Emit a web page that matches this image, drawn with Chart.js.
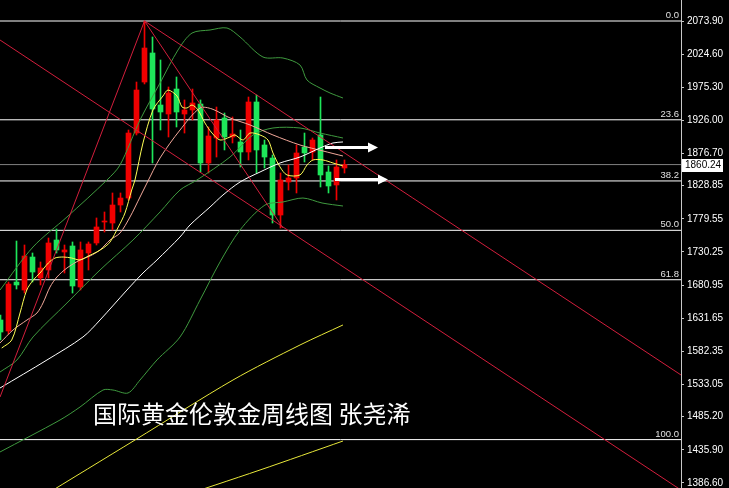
<!DOCTYPE html>
<html>
<head>
<meta charset="utf-8">
<script src="https://cdn.jsdelivr.net/npm/chart.js@4.4.1/dist/chart.umd.min.js"></script>
<style>
html, body { margin: 0; padding: 0; background: #000; }
#wrap { position: relative; width: 729px; height: 488px; overflow: hidden; }
#title {
    position: absolute; left: 93px; top: 400px;
    color: #fff; font-size: 24px; line-height: 25px;
    font-family: "Noto Sans CJK SC", sans-serif; white-space: nowrap;
}
</style>
</head>
<body>
<div id="wrap">
    <canvas id="goldChart" width="729" height="488"></canvas>
    <div id="title">国际黄金伦敦金周线图 张尧浠</div>
</div>
<script>
// weekly candles
const opens  = [1629.0, 1612.6, 1685.5, 1673.6, 1722.7, 1691.5, 1703.4, 1748.0, 1730.2, 1739.1,
                1678.1, 1728.7, 1743.6, 1774.8, 1773.3, 1800.1, 1810.5, 1907.2, 1983.1, 2026.3,
                1948.9, 1935.5, 1972.7, 1935.5, 1941.5, 1950.4, 1862.6, 1899.8, 1929.6, 1901.3,
                1893.9, 1879.0, 1953.4, 1889.4, 1870.0, 1785.2, 1834.3, 1840.3, 1886.4, 1879.0,
                1904.3, 1849.2, 1829.9, 1855.2];
const highs  = [1636.4, 1685.5, 1746.5, 1740.6, 1728.7, 1715.3, 1751.0, 1764.4, 1740.6, 1745.1,
                1745.1, 1745.1, 1780.8, 1789.7, 1818.0, 1818.0, 1911.7, 1983.1, 2073.9, 2050.1,
                2015.9, 1975.7, 1990.6, 1956.4, 1972.7, 1956.4, 1916.2, 1945.9, 1937.0, 1931.1,
                1911.7, 1960.8, 1963.8, 1896.8, 1874.5, 1847.7, 1859.6, 1889.4, 1907.2, 1899.8,
                1960.8, 1858.2, 1867.1, 1867.1];
const lows   = [1599.2, 1608.2, 1675.1, 1669.1, 1685.5, 1681.1, 1691.5, 1728.7, 1698.9, 1669.1,
                1673.6, 1703.4, 1740.6, 1759.9, 1762.9, 1789.7, 1807.6, 1904.3, 1980.2, 1862.6,
                1911.7, 1901.3, 1916.2, 1907.2, 1926.6, 1849.2, 1847.7, 1871.5, 1882.0, 1892.4,
                1856.7, 1867.1, 1847.7, 1855.2, 1773.3, 1765.9, 1822.4, 1818.0, 1864.1, 1867.1,
                1826.9, 1818.0, 1807.6, 1847.7];
const closes = [1611.1, 1682.5, 1681.1, 1724.2, 1700.4, 1706.4, 1743.6, 1733.2, 1733.2, 1679.6,
                1733.2, 1742.1, 1767.4, 1776.3, 1800.1, 1810.5, 1907.2, 1971.2, 2033.7, 1943.0,
                1938.5, 1966.8, 1938.5, 1941.5, 1951.9, 1862.6, 1902.8, 1926.6, 1901.3, 1905.8,
                1879.0, 1953.4, 1882.0, 1871.5, 1785.2, 1837.3, 1840.3, 1877.5, 1877.5, 1896.8,
                1844.8, 1828.4, 1856.7, 1860.24];

const yTicks = [2073.90, 2024.60, 1975.30, 1926.00, 1876.70, 1828.85, 1779.55, 1730.25,
                1680.95, 1631.65, 1582.35, 1533.05, 1485.20, 1435.90, 1386.60];
const fibLevels = [2073.9, 1926.9, 1835.9, 1762.4, 1688.9, 1451.0];
const fibNames  = ["0.0", "23.6", "38.2", "50.0", "61.8", "100.0"];
const lastPrice = 1860.24;

// indicator lines as [week index, price]
const ma5 = [[0.15,1587.3],[1.4,1599.2],[2.44,1639.4],[3.28,1673.6],[4.1,1688.5],[4.94,1698.9],
    [5.98,1713.8],[6.81,1721.2],[7.85,1722.7],[8.9,1721.2],[9.94,1718.3],[10.98,1724.2],
    [12.03,1730.2],[12.85,1736.1],[13.69,1745.0],[14.73,1767.4],[15.56,1788.2],[16.4,1822.4],
    [16.81,1837.3],[17.81,1892.4],[19.06,1941.5],[20.31,1962.3],[20.94,1971.2],[22.06,1962.3],
    [22.69,1946.0],[23.31,1944.5],[23.94,1948.9],[24.69,1941.5],[25.56,1922.1],[26.44,1907.2],
    [27.44,1896.8],[28.69,1901.3],[29.31,1904.3],[30.31,1896.8],[31.19,1907.2],[32.44,1904.3],
    [33.44,1896.8],[34.06,1877.5],[34.94,1856.7],[35.81,1844.8],[37.44,1844.8],[38.31,1859.6],
    [39.06,1867.1],[40.31,1867.1],[41.56,1862.6],[42.81,1858.2]];
const ma10 = [[-0.06,1594.8],[1.56,1614.1],[3.31,1629.0],[4.56,1639.4],[5.31,1654.3],[6.19,1678.1],
    [7.06,1693.0],[8.31,1706.4],[9.94,1718.3],[11.19,1724.2],[12.44,1733.2],[13.69,1748.0],
    [14.94,1758.4],[16.19,1782.3],[17.44,1812.0],[18.31,1832.8],[19.94,1870.1],[22.44,1911.7],
    [24.94,1944.4],[26.44,1943.0],[28.69,1929.6],[31.19,1919.2],[34.06,1904.3],[37.44,1889.4],
    [40.31,1880.5],[42.81,1873.0]];
const bandMid = [[-0.06,1551.6],[2.06,1569.5],[4.06,1603.7],[8.31,1654.3],[12.44,1703.4],
    [16.56,1748.0],[19.94,1789.7],[22.44,1822.4],[24.56,1837.3],[28.69,1871.5],[31.56,1904.3],
    [34.06,1914.7],[37.44,1914.7],[39.94,1907.2],[42.81,1899.8]];
const bandUp = [[-0.06,1673.6],[4.06,1737.6],[8.31,1782.3],[13.31,1837.3],[14.94,1859.6],
    [17.44,1926.6],[19.94,1981.6],[22.19,2030.8],[23.94,2056.0],[26.19,2060.5],[28.31,2063.5],
    [29.94,2050.1],[32.81,2020.3],[35.31,2018.8],[37.44,2008.4],[38.31,1986.1],[39.94,1974.2],
    [41.19,1966.8],[42.81,1959.3]];
const bandLow = [[-0.06,1432.6],[7.44,1480.2],[9.94,1499.5],[12.81,1524.8],[14.06,1524.8],
    [15.94,1520.4],[17.44,1539.7],[19.56,1569.5],[22.44,1603.7],[24.94,1658.7],[27.44,1715.3],
    [29.94,1762.9],[33.06,1800.1],[35.31,1804.6],[37.81,1810.5],[40.19,1803.1],[42.81,1798.6]];
const maWhite = [[-0.06,1527.8],[5.81,1569.5],[10.31,1603.7],[12.44,1629.0],[15.81,1673.6],
    [17.81,1698.9],[19.56,1718.3],[22.44,1752.5],[23.69,1770.4],[26.19,1797.1],[27.81,1815.0],
    [29.94,1834.3],[32.44,1849.2],[34.94,1862.6],[37.44,1871.5],[39.94,1884.9],[41.56,1892.4],
    [42.81,1893.9]];
const maLongA = [[4.94,1364.1],[16.81,1450.4],[29.06,1539.7],[37.44,1591.8],[42.81,1621.6]];
const maLongB = [[21.2,1361.1],[32.44,1405.8],[42.81,1448.9]];

// drawn objects
const channelLow  = [[-0.06,2045.6],[85.06,1376.0]];
const channelHigh = [[18.0,2073.9],[85.06,1547.2]];
const legLeft     = [[18.0,2073.9],[-0.06,1514.4]];
const legDown     = [[18.0,2073.9],[35.31,1765.9]];
const arrowTop    = [[40.56,1885.7],[47.19,1885.7]];
const arrowBottom = [[41.81,1838.0],[48.44,1838.0]];

const RED = "#f00000";
const GREEN = "#1ee65a";
const candleColors = opens.map((o, i) => closes[i] >= o ? RED : GREEN);

const toPts = arr => arr.map(([x, y]) => ({ x, y }));

function line(pts, color, order, tension = 0.3, width = 1) {
    return {
        type: "line", data: toPts(pts), borderColor: color, borderWidth: width,
        pointRadius: 0, tension, fill: false, order, clip: 0
    };
}

const datasets = [];
fibLevels.forEach(v => datasets.push(line([[-1, v], [90, v]], "#ffffff", 20, 0)));
datasets.push(line([[-1, lastPrice], [90, lastPrice]], "#808080", 19, 0));

datasets.push({
    type: "bar", data: lows.map((l, i) => ({ x: i, y: [l, highs[i]] })),
    backgroundColor: candleColors, barThickness: 1, grouped: false, order: 11
});
datasets.push({
    type: "bar", data: opens.map((o, i) => ({ x: i, y: [o, closes[i]] })),
    backgroundColor: candleColors, barThickness: 5, minBarLength: 1, grouped: false, order: 10
});

datasets.push(line(maLongA, "#e8e83a", 5));
datasets.push(line(maLongB, "#e8e83a", 5));
datasets.push(line(bandUp, "#3f9a3f", 4));
datasets.push(line(bandMid, "#3f9a3f", 4));
datasets.push(line(bandLow, "#3f9a3f", 4));
datasets.push(line(maWhite, "#ffffff", 3));
datasets.push(line(ma10, "#f2a89a", 3));
datasets.push(line(ma5, "#ffff55", 2));

[channelLow, channelHigh, legLeft, legDown].forEach(p => datasets.push(line(p, "#d21e3c", 1, 0)));

const overlay = {
    id: "overlay",
    beforeDraw(chart) {
        const c = chart.ctx;
        c.save();
        c.fillStyle = "#000";
        c.fillRect(0, 0, chart.width, chart.height);
        c.restore();
    },
    afterDatasetsDraw(chart) {
        const c = chart.ctx;
        const xs = chart.scales.x, ys = chart.scales.y;
        const right = chart.chartArea.right;
        c.save();
        c.font = "9.5px 'Liberation Sans'";
        c.fillStyle = "#e0e0e0";
        c.textAlign = "right";
        c.textBaseline = "alphabetic";
        fibLevels.forEach((v, i) => {
            c.fillText(fibNames[i], right - 2, Math.round(ys.getPixelForValue(v)) - 3);
        });

        [arrowTop, arrowBottom].forEach(a => {
            const x0 = xs.getPixelForValue(a[0][0]);
            const x1 = xs.getPixelForValue(a[1][0]);
            const y = ys.getPixelForValue(a[0][1]);
            c.strokeStyle = "#fff";
            c.fillStyle = "#fff";
            c.lineWidth = 3;
            c.beginPath();
            c.moveTo(x0, y);
            c.lineTo(x1 - 8, y);
            c.stroke();
            c.beginPath();
            c.moveTo(x1, y);
            c.lineTo(x1 - 10, y - 5);
            c.lineTo(x1 - 10, y + 5);
            c.closePath();
            c.fill();
        });
        c.restore();
    },
    afterDraw(chart) {
        const c = chart.ctx;
        const y = chart.scales.y.getPixelForValue(lastPrice);
        const x = chart.chartArea.right + 1;
        c.save();
        c.fillStyle = "#fff";
        c.fillRect(x, Math.round(y) - 6, 41, 13);
        c.fillStyle = "#000";
        c.font = "10px 'Liberation Sans'";
        c.textBaseline = "middle";
        c.textAlign = "left";
        c.fillText(lastPrice.toFixed(2), x + 3, Math.round(y) + 0.5);
        c.restore();
    }
};

new Chart(document.getElementById("goldChart"), {
    type: "bar",
    data: { datasets },
    options: {
        responsive: false,
        animation: false,
        devicePixelRatio: 1,
        layout: { padding: 0 },
        plugins: { legend: { display: false }, tooltip: { enabled: false } },
        scales: {
            x: { type: "linear", min: -0.0625, max: 85.0625, display: false, offset: false },
            y: {
                position: "right", min: 1379.0, max: 2105.15,
                afterBuildTicks: s => { s.ticks = yTicks.map(v => ({ value: v })); },
                afterFit: s => { s.width = 48; s.paddingTop = 0; s.paddingBottom = 0; },
                grid: { drawOnChartArea: false, drawTicks: true, tickLength: 3, color: "#c8c8c8" },
                border: { display: true, color: "#c8c8c8" },
                ticks: {
                    color: "#ffffff", padding: 3, autoSkip: false,
                    font: { family: "Liberation Sans", size: 10 },
                    callback: v => Number(v).toFixed(2)
                }
            }
        }
    },
    plugins: [overlay]
});
</script>
</body>
</html>
